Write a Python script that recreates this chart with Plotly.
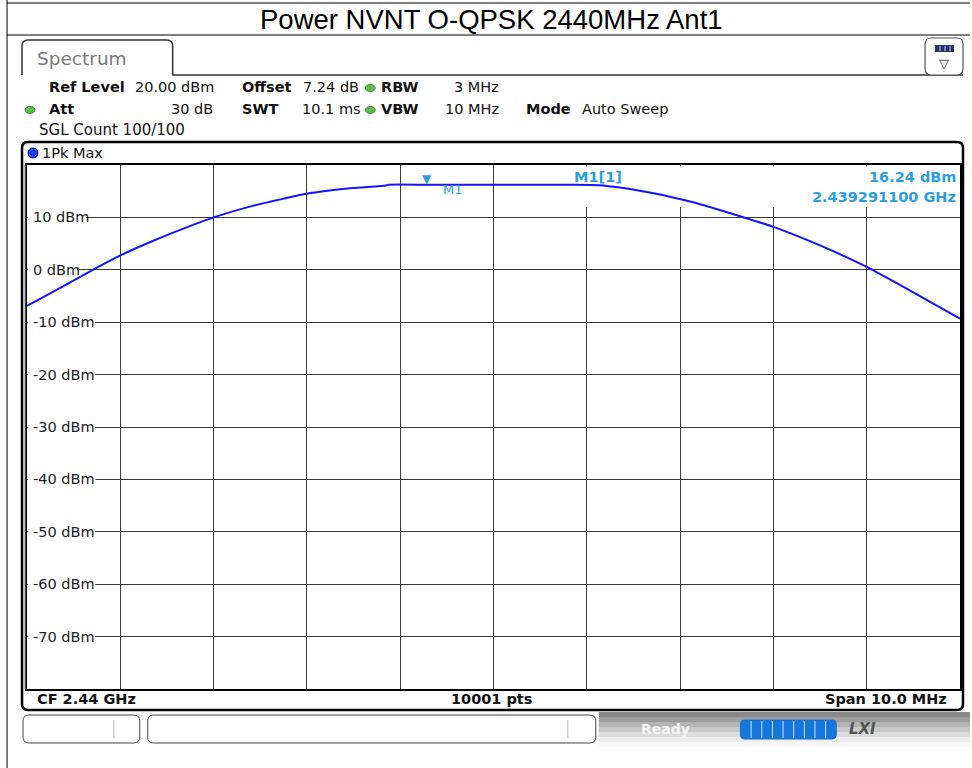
import plotly.graph_objects as go

# ---------------- data ----------------
freq_ghz = [2.435000, 2.435278, 2.435706, 2.435995, 2.436348, 2.436711, 2.437000,
            2.437417, 2.437995, 2.438487, 2.438850, 2.438870, 2.439291, 2.440000,
            2.440882, 2.441128, 2.441353, 2.441770, 2.441995, 2.442198, 2.442626,
            2.443000, 2.443481, 2.443995, 2.444337, 2.445000]
level_dbm = [-6.9, -4.2, 0.0, 2.7, 5.5, 8.1, 10.0,
             12.2, 14.5, 15.6, 16.1, 16.24, 16.24, 16.24,
             16.24, 16.15, 15.7, 14.4, 13.5, 12.6, 10.3,
             8.2, 4.8, 0.6, -2.7, -9.3]
y_ticks = [10, 0, -10, -20, -30, -40, -50, -60, -70]
y_tick_labels = [f"{v} dBm" for v in y_ticks]
marker_freq = 2.4392911
marker_level = 16.24
x_range = [2.435, 2.445]
y_range = [-80, 20]

title_text = "Power NVNT O-QPSK 2440MHz Ant1"

# ---------------- geometry helpers (decoration only) ----------------
W_FIG, H_FIG = 972, 768
PL, PR, PT, PB = 27, 962, 165, 689
PW, PH = PR - PL, PB - PT


def px(x):
    return (x - PL) / PW


def py(y):
    return (PB - y) / PH


def fx(x):  # pixel -> data x (for decorative boxes living in the subplot)
    return x_range[0] + px(x) * (x_range[1] - x_range[0])


def fy(y):
    return y_range[0] + py(y) * (y_range[1] - y_range[0])


shapes = []
annotations = []


def line(x0, y0, x1, y1, color="black", width=1, layer="above"):
    shapes.append(dict(type="line", xref="paper", yref="paper",
                       x0=px(x0), y0=py(y0), x1=px(x1), y1=py(y1),
                       line=dict(color=color, width=width), layer=layer))


def rect(x0, y0, x1, y1, fill=None, color=None, width=0, layer="above"):
    shapes.append(dict(type="rect", xref="paper", yref="paper",
                       x0=px(x0), y0=py(y0), x1=px(x1), y1=py(y1),
                       fillcolor=fill or "rgba(0,0,0,0)",
                       line=dict(color=color or "rgba(0,0,0,0)", width=width),
                       layer=layer))


def ellipse(x0, y0, x1, y1, fill, color, width=1):
    shapes.append(dict(type="circle", xref="paper", yref="paper",
                       x0=px(x0), y0=py(y0), x1=px(x1), y1=py(y1),
                       fillcolor=fill, line=dict(color=color, width=width)))


def P(x, y):
    return f"{px(x):.5f},{py(y):.5f}"


def rrect(x0, y0, x1, y1, r, color="black", width=1, fill=None, layer="above"):
    path = (f"M {P(x0 + r, y0)} L {P(x1 - r, y0)} Q {P(x1, y0)} {P(x1, y0 + r)} "
            f"L {P(x1, y1 - r)} Q {P(x1, y1)} {P(x1 - r, y1)} "
            f"L {P(x0 + r, y1)} Q {P(x0, y1)} {P(x0, y1 - r)} "
            f"L {P(x0, y0 + r)} Q {P(x0, y0)} {P(x0 + r, y0)} Z")
    shapes.append(dict(type="path", xref="paper", yref="paper", path=path,
                       fillcolor=fill or "rgba(0,0,0,0)",
                       line=dict(color=color, width=width), layer=layer))


def text(t, x, y, anchor="left", size=14, color="#111", family="DejaVu Sans",
         bold=False, bg=None, **kw):
    if bold:
        t = f"<b>{t}</b>"
    d = dict(text=t, xref="paper", yref="paper", x=px(x), y=py(y),
             xanchor=anchor, yanchor="middle", showarrow=False,
             font=dict(size=size, color=color, family=family))
    if bg:
        d["bgcolor"] = bg
    d.update(kw)
    annotations.append(d)


# ---------------- outer frame & title ----------------
line(7, 0, 7, 768, width=1)
line(7, 3, 972, 3, width=1)
line(7, 35, 972, 35, width=1)
text(title_text, 492, 20, anchor="center", size=27.5, color="#000",
     family="Liberation Sans, Arial, sans-serif")

# ---------------- Spectrum tab ----------------
tab = (f"M {P(22, 75)} L {P(22, 46)} Q {P(22, 40)} {P(28, 40)} L {P(167, 40)} "
       f"Q {P(173, 40)} {P(173, 46)} L {P(173, 75)} L {P(965, 75)}")
shapes.append(dict(type="path", xref="paper", yref="paper", path=tab,
                   line=dict(color="#333", width=1.5)))
text("Spectrum", 35, 58, size=18.5, color="#7a7a7a")
rrect(927, 38, 965, 75, 6, color="#555", width=1.2, fill="white")
rect(937, 45, 956, 52, fill="#2a2f6a")
for sx in (942, 947, 952):
    line(sx, 46, sx, 51, color="#dde", width=1)
text("▽", 946, 63, anchor="center", size=13, color="#333")

# ---------------- header info ----------------
HS = 14.5
r1, r2, r3 = 87, 109, 130
text("Ref Level", 47, r1, size=HS, bold=True)
text("20.00 dBm", 133, r1, size=HS)
text("Offset", 240, r1, size=HS, bold=True)
text("7.24 dB", 302, r1, size=HS)
text("RBW", 380, r1, size=HS, bold=True)
text("3 MHz", 453, r1, size=HS)
text("Att", 47, r2, size=HS, bold=True)
text("30 dB", 215, r2, anchor="right", size=HS)
text("SWT", 240, r2, size=HS, bold=True)
text("10.1 ms", 301, r2, size=HS)
text("VBW", 380, r2, size=HS, bold=True)
text("10 MHz", 444, r2, size=HS)
text("Mode", 525, r2, size=HS, bold=True)
text("Auto Sweep", 581, r2, size=HS)
text("SGL Count 100/100", 37, r3, size=15)
for cx, cy in ((30, r2 + 1), (371, r1 + 1), (371, r2 + 1)):
    ellipse(cx - 5, cy - 3.5, cx + 5, cy + 3.5, "#5dbb4f", "#3c8a33", 1)

# ---------------- trace box ----------------
rrect(22, 142, 965, 710, 6, color="black", width=2.5)
line(25, 165, 25, 689, color="#888", width=1)
ellipse(28, 148, 38, 158, "#1d3fe6", "#0c1f8a", 1)
text("1Pk Max", 40, 153, size=HS)

# footer
text("CF 2.44 GHz", 35, 699, size=HS, bold=True)
text("10001 pts", 492, 699, anchor="center", size=HS, bold=True)
text("Span 10.0 MHz", 951, 699, anchor="right", size=HS, bold=True)

# marker info box (hides grid lines but stays under the trace)
shapes.append(dict(type="rect", xref="x", yref="y", x0=fx(497), x1=fx(960.5),
                   y0=fy(207), y1=fy(166.5), fillcolor="white",
                   line=dict(width=0), layer="between"))
MC = "#2a9ee0"
text("M1[1]", 573, 177, size=HS, bold=True, color=MC)
text("16.24 dBm", 960, 177, anchor="right", size=HS, bold=True, color=MC)
text("2.439291100 GHz", 960, 197, anchor="right", size=HS, bold=True, color=MC)

# y tick labels (inside plot); white strip hides the grid line under the text
for v, lab in zip(y_ticks, y_tick_labels):
    end_px = 31 + 9.2 * len(lab)
    shapes.append(dict(type="rect", xref="x", yref="y", x0=fx(28), x1=fx(end_px),
                       y0=v - 0.6, y1=v + 0.6, fillcolor="white",
                       line=dict(width=0), layer="between"))
    annotations.append(dict(text=lab, xref="paper", yref="y", x=px(31), y=v,
                            xanchor="left", yanchor="middle", showarrow=False,
                            font=dict(size=HS, color="#222", family="DejaVu Sans")))

# marker
annotations.append(dict(text="▼", xref="x", yref="y", x=marker_freq, y=marker_level,
                        yshift=6, showarrow=False, xanchor="center", yanchor="middle",
                        font=dict(size=12, color=MC, family="DejaVu Sans")))
annotations.append(dict(text="M1", xref="x", yref="y", x=marker_freq, y=marker_level,
                        xshift=14, yshift=-5, showarrow=False, xanchor="left",
                        yanchor="middle",
                        font=dict(size=13, color=MC, family="DejaVu Sans")))

# ---------------- status bar ----------------
grays = ["#8a8a8a", "#9d9d9d", "#b3b3b3", "#c8c8c8", "#dcdcdc", "#ececec", "#f7f7f7"]
for i, g in enumerate(grays):
    rect(600, 712 + i * 5, 972, 717 + i * 5, fill=g)
rrect(23, 715, 140, 743, 6, color="#444", width=1, fill="white")
line(114, 720, 114, 738, color="#bbb", width=1)
rrect(148, 715, 597, 743, 6, color="#444", width=1, fill="white")
line(569, 720, 569, 738, color="#bbb", width=1)
text("Ready", 667, 729, anchor="center", size=14, bold=True, color="#f4f4f4")
rrect(742, 720, 838, 739, 4, color="#1a6fc8", width=1, fill="#1576dc")
for k in range(1, 9):
    sx = 742 + k * 96 / 9
    line(sx, 721, sx, 738, color="#cfe3f7", width=1)
text("<i>LXI</i>", 864, 729, anchor="center", size=15, bold=True, color="#555")

# ---------------- figure ----------------
fig = go.Figure()
fig.add_trace(go.Scatter(x=freq_ghz, y=level_dbm, mode="lines",
                         line=dict(color="#1414ff", width=2, shape="spline", smoothing=0.5),
                         hoverinfo="skip", showlegend=False))

fig.update_layout(
    width=W_FIG, height=H_FIG,
    margin=dict(l=PL, r=W_FIG - PR, t=PT, b=H_FIG - PB, pad=0),
    paper_bgcolor="white", plot_bgcolor="white",
    showlegend=False,
    shapes=shapes, annotations=annotations,
    xaxis=dict(range=x_range, tick0=x_range[0], dtick=0.001, showgrid=True,
               gridcolor="#3a3a3a", gridwidth=1, showticklabels=False, ticks="",
               zeroline=False, showline=True, linecolor="black", linewidth=2,
               mirror=True, fixedrange=True),
    yaxis=dict(range=y_range, tick0=-80, dtick=10, showgrid=True,
               gridcolor="#3a3a3a", gridwidth=1, showticklabels=False, ticks="",
               zeroline=False, showline=True, linecolor="black", linewidth=2,
               mirror=True, fixedrange=True),
)

fig.write_html("out.html", config={"displayModeBar": False},
               post_script="document.body.style.margin='0';")
